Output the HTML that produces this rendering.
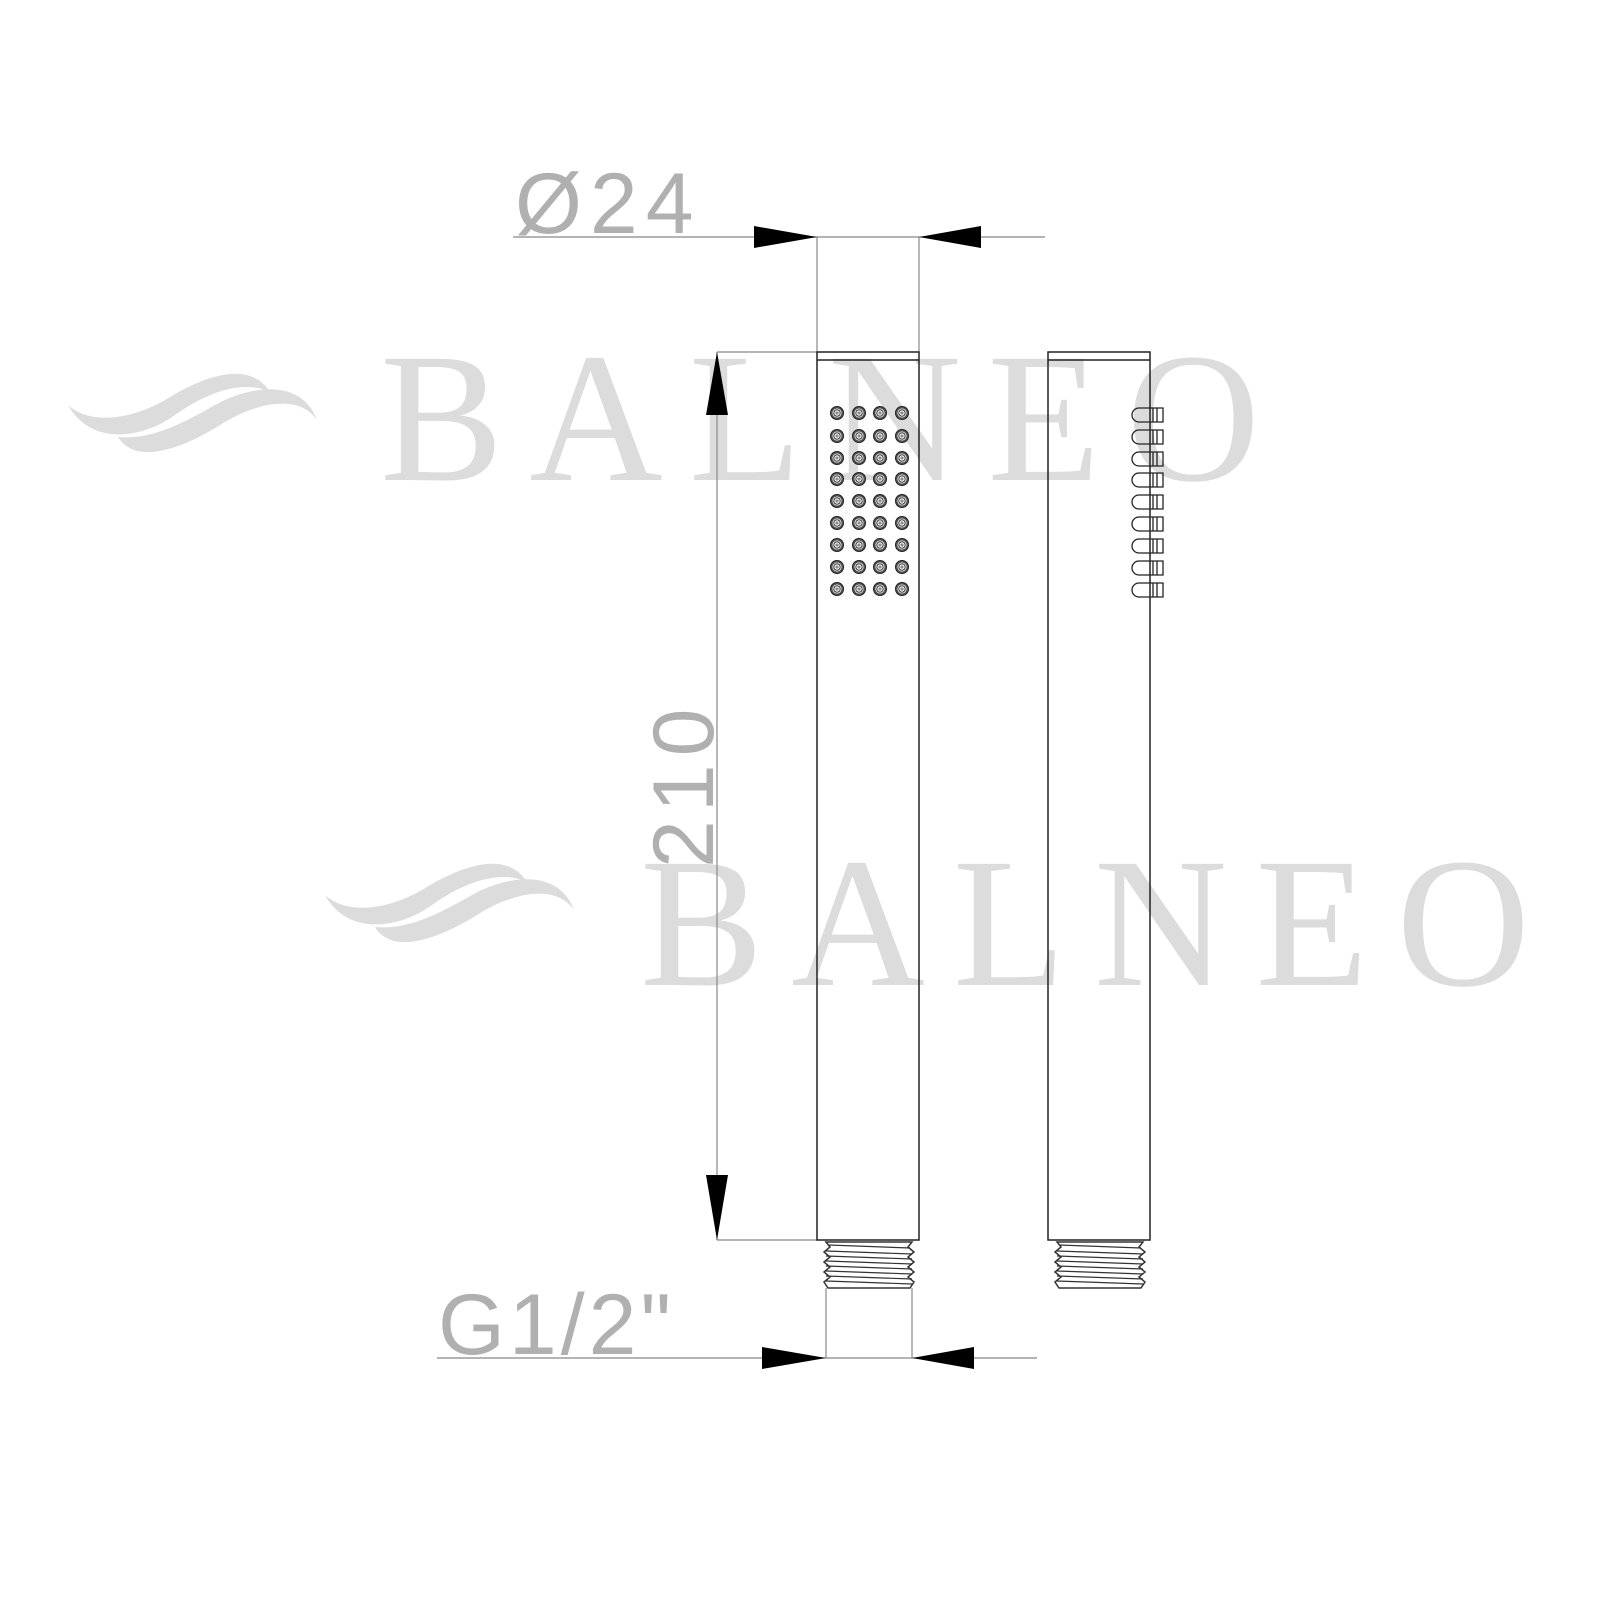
<!DOCTYPE html>
<html><head><meta charset="utf-8"><style>html,body{margin:0;padding:0;background:#fff}svg{display:block}</style></head>
<body>
<svg width="1600" height="1600" viewBox="0 0 1600 1600" xmlns="http://www.w3.org/2000/svg">
<defs>
<g id="logo" fill="#dcdcdc">
<path d="M68,405 C90,425 130,420 165,400 C205,375 250,360 270,392 C245,380 210,390 175,415 C140,440 90,445 68,405Z"/>
<path d="M118,437 C150,440 180,425 215,405 C245,388 300,375 317,420 C300,395 260,400 220,425 C180,450 135,465 118,437Z"/>
</g>
<g id="dot"><circle r="6.5" fill="#555" stroke="#222" stroke-width="1"/><circle r="4.5" fill="#fff"/><circle r="3.2" fill="none" stroke="#333" stroke-width="1"/><circle r="1.6" fill="#888"/></g>
<g id="noz" fill="none" stroke="#222" stroke-width="1.3"><path d="M1163,-7 H1139 A7,7 0 0 0 1139,7 H1163 Z"/><line x1="1153" y1="-7" x2="1153" y2="7"/><line x1="1157" y1="-7" x2="1157" y2="7"/></g>
<g id="thread" fill="#fff" stroke="#333" stroke-width="1.5">
<path d="M0,0 H86 L82,5 L88,10 L82,15 L88,20 L82,25 L88,30 L82,35 L88,40 L84,46 H2 L-2,40 L4,35 L-2,30 L4,25 L-2,20 L4,15 L-2,10 L4,5 Z"/>
<path d="M2,3 L84,6 M0,9 L86,12 M0,14 L86,17 M0,19 L86,22 M0,24 L86,27 M0,29 L86,32 M0,34 L86,37 M0,39 L86,42" stroke-width="1.2"/>
</g>
</defs>
<use href="#logo"/>
<use href="#logo" transform="translate(257,490)"/>
<g fill="#dcdcdc" font-family="Liberation Serif, serif" font-size="185">
<text x="380" y="480" textLength="880" lengthAdjust="spacing">BALNEO</text>
<text x="640" y="985" textLength="890" lengthAdjust="spacing">BALNEO</text>
</g>
<g stroke="#888" stroke-width="1.2" fill="none">
<line x1="513" y1="237" x2="1045" y2="237"/>
<line x1="817" y1="237" x2="817" y2="352"/>
<line x1="919" y1="237" x2="919" y2="352"/>
<line x1="717" y1="352" x2="717" y2="1240"/>
<line x1="717" y1="352" x2="817" y2="352"/>
<line x1="717" y1="1240" x2="817" y2="1240"/>
<line x1="437" y1="1358" x2="1037" y2="1358"/>
<line x1="826" y1="1288" x2="826" y2="1358"/>
<line x1="912" y1="1288" x2="912" y2="1358"/>
</g>
<g fill="#000">
<polygon points="754,226 817,237 754,248"/>
<polygon points="981,226 919,237 981,248"/>
<polygon points="706,415 717,352 728,415"/>
<polygon points="706,1175 717,1240 728,1175"/>
<polygon points="762,1347 826,1358 762,1369"/>
<polygon points="974,1347 912,1358 974,1369"/>
</g>
<g fill="#b0b0b0" font-family="Liberation Sans, sans-serif" font-weight="normal">
<text x="515" y="233" font-size="86" letter-spacing="8">Ø24</text>
<text transform="translate(713,868) rotate(-90)" font-size="86" letter-spacing="8">210</text>
<text x="438" y="1354" font-size="86" letter-spacing="4">G1/2"</text>
</g>
<g fill="none" stroke="#222" stroke-width="1.5">
<rect x="817" y="352" width="102" height="888"/>
<line x1="817" y1="360" x2="919" y2="360"/>
<rect x="1048" y="352" width="102" height="888"/>
<line x1="1048" y1="360" x2="1150" y2="360"/>
</g>
<g>
<use href="#dot" x="837" y="413"/><use href="#dot" x="859" y="413"/><use href="#dot" x="880" y="413"/><use href="#dot" x="902" y="413"/>
<use href="#dot" x="837" y="436"/><use href="#dot" x="859" y="436"/><use href="#dot" x="880" y="436"/><use href="#dot" x="902" y="436"/>
<use href="#dot" x="837" y="458"/><use href="#dot" x="859" y="458"/><use href="#dot" x="880" y="458"/><use href="#dot" x="902" y="458"/>
<use href="#dot" x="837" y="479"/><use href="#dot" x="859" y="479"/><use href="#dot" x="880" y="479"/><use href="#dot" x="902" y="479"/>
<use href="#dot" x="837" y="501"/><use href="#dot" x="859" y="501"/><use href="#dot" x="880" y="501"/><use href="#dot" x="902" y="501"/>
<use href="#dot" x="837" y="523"/><use href="#dot" x="859" y="523"/><use href="#dot" x="880" y="523"/><use href="#dot" x="902" y="523"/>
<use href="#dot" x="837" y="545"/><use href="#dot" x="859" y="545"/><use href="#dot" x="880" y="545"/><use href="#dot" x="902" y="545"/>
<use href="#dot" x="837" y="567"/><use href="#dot" x="859" y="567"/><use href="#dot" x="880" y="567"/><use href="#dot" x="902" y="567"/>
<use href="#dot" x="837" y="589"/><use href="#dot" x="859" y="589"/><use href="#dot" x="880" y="589"/><use href="#dot" x="902" y="589"/>
</g>
<g>
<use href="#noz" y="415"/><use href="#noz" y="437"/><use href="#noz" y="459"/><use href="#noz" y="480"/><use href="#noz" y="502"/><use href="#noz" y="524"/><use href="#noz" y="546"/><use href="#noz" y="568"/><use href="#noz" y="590"/>
</g>
<use href="#thread" transform="translate(826,1242)"/>
<use href="#thread" transform="translate(1057,1242)"/>
</svg>
</body></html>
